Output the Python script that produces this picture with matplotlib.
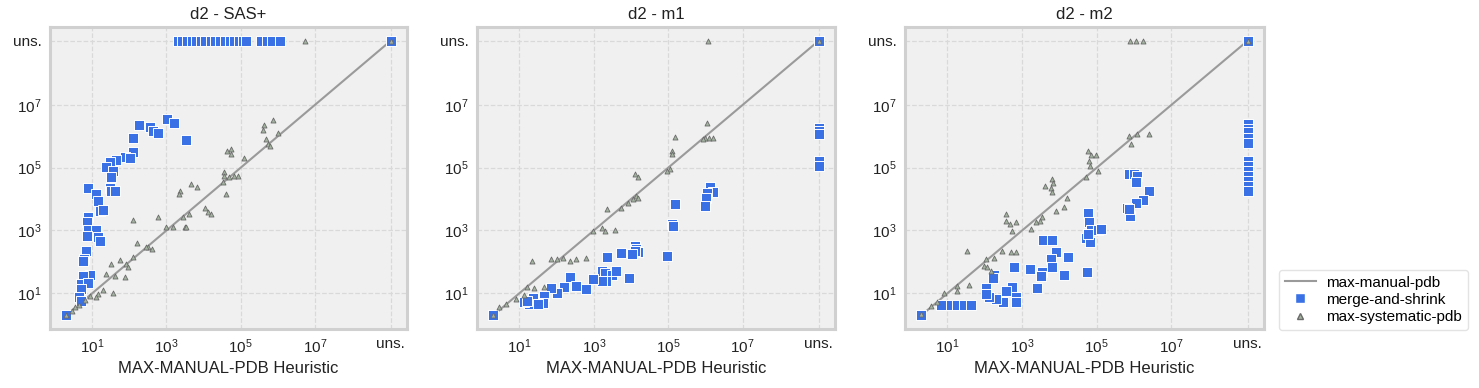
import matplotlib
matplotlib.use('Agg')

import numpy as np
import matplotlib.pyplot as plt
from matplotlib.lines import Line2D

# expansions, given as log10 of the value; 'u' = unsolved
UNS = 1.1e9

titles = ['d2 - SAS+', 'd2 - m1', 'd2 - m2']
series = ['max-manual-pdb', 'merge-and-shrink', 'max-systematic-pdb']
tick_labels = ['$10^1$', '$10^3$', '$10^5$', '$10^7$', 'uns.']

# d2 - SAS+
sas_ms_x = [3.01, 3.21, 2.27, 2.56, 2.63, 2.76, 2.10, 3.54, 2.10, 1.88, 2.01, 1.65, 1.49, 1.36,
            1.56, 1.52, 0.88, 1.47, 1.52, 1.61, 1.11, 1.15, 1.20, 1.29, 0.88, 0.85, 0.88, 1.11,
            1.15, 1.20, 0.85, 0.84, 0.79, 0.74, 0.93, 0.74, 0.70, 0.88, 0.70, 0.65, 0.70, 0.30,
            3.30, 3.42, 3.55, 3.68, 3.80, 3.92, 4.05, 4.20, 4.30, 4.45, 4.58, 4.70, 4.82, 4.95,
            5.05, 5.15, 5.55, 5.70, 5.85, 6.05, 'u']
sas_ms_y = [6.55, 6.41, 6.36, 6.30, 6.17, 6.10, 5.96, 5.89, 5.51, 5.35, 5.31, 5.26, 5.19, 5.01,
            4.88, 4.69, 4.36, 4.36, 4.27, 4.27, 4.16, 3.95, 3.63, 3.65, 3.42, 3.26, 3.00, 3.00,
            2.78, 2.68, 2.83, 2.36, 2.09, 2.04, 1.59, 1.56, 1.30, 1.32, 1.14, 0.87, 0.77, 0.30,
            'u', 'u', 'u', 'u', 'u', 'u', 'u', 'u', 'u', 'u', 'u', 'u', 'u', 'u',
            'u', 'u', 'u', 'u', 'u', 'u', 'u']
sas_sys_x = [5.87, 5.64, 5.60, 5.69, 5.73, 5.80, 6.00, 4.64, 4.73, 5.08, 4.73, 4.54, 4.55, 4.69,
             4.82, 4.92, 4.51, 4.60, 3.67, 3.81, 3.36, 3.33, 4.05, 4.12, 4.19, 2.10, 2.77, 3.45,
             3.60, 3.51, 3.18, 2.99, 3.54, 2.21, 2.51, 2.60, 2.45, 2.10, 1.91, 1.97, 1.74, 1.52,
             1.38, 1.61, 1.88, 1.56, 1.29, 1.15, 1.11, 0.93, 0.80, 0.65, 0.55, 0.45, 0.30, 6.73, 'u']
sas_sys_y = [6.51, 6.36, 6.20, 5.91, 5.75, 5.70, 6.09, 5.54, 5.59, 5.32, 5.45, 4.85, 4.74, 4.69,
             4.72, 4.74, 4.53, 4.16, 4.48, 4.37, 4.27, 4.16, 3.73, 3.58, 3.54, 3.33, 3.44, 3.44,
             3.52, 3.10, 3.12, 3.10, 3.10, 2.59, 2.46, 2.41, 2.48, 2.17, 1.93, 1.83, 2.06, 1.93,
             1.62, 1.56, 1.51, 1.00, 1.09, 0.98, 0.87, 0.93, 0.78, 0.62, 0.55, 0.45, 0.30, 'u', 'u']

# d2 - m1
m1_ms_x = ['u', 'u', 'u', 'u', 'u', 6.12, 6.21, 6.05, 6.01, 5.98, 5.18, 5.11, 5.13, 4.97,
           4.10, 4.13, 4.19, 4.10, 4.04, 3.74, 3.35, 3.95, 3.23, 3.29, 3.50, 3.61, 3.32, 3.23,
           2.98, 2.35, 2.78, 2.51, 2.19, 2.01, 1.84, 1.65, 1.63, 1.40, 1.27, 1.13, 1.36, 1.49,
           1.20, 0.30, 'u']
m1_ms_y = [6.27, 6.18, 6.08, 5.20, 5.06, 4.39, 4.24, 4.18, 4.05, 3.79, 3.84, 3.22, 3.15, 2.20,
           2.51, 2.41, 2.30, 2.36, 2.25, 2.27, 2.17, 1.49, 1.70, 1.64, 1.59, 1.70, 1.40, 1.38,
           1.46, 1.53, 1.14, 1.24, 1.21, 1.00, 1.17, 0.93, 0.68, 0.71, 0.66, 0.71, 0.85, 0.66,
           0.75, 0.30, 'u']
m1_sys_x = [6.08, 6.05, 6.10, 5.99, 5.94, 6.21, 5.18, 5.09, 5.11, 5.04, 4.97, 4.10, 4.19, 4.14,
            4.19, 4.05, 3.92, 3.72, 3.35, 3.56, 3.23, 3.29, 2.98, 2.78, 2.53, 2.35, 2.17, 2.01,
            1.85, 1.33, 1.65, 1.40, 1.20, 1.13, 0.91, 0.64, 0.46, 0.30, 'u']
m1_sys_y = ['u', 6.43, 5.96, 5.94, 5.90, 5.96, 5.98, 5.53, 5.43, 4.95, 4.90, 4.79, 4.69, 4.10,
            4.05, 3.99, 3.89, 3.71, 3.68, 3.03, 3.07, 2.99, 2.99, 2.12, 2.09, 2.02, 2.14, 2.09,
            2.09, 2.04, 1.21, 1.17, 1.19, 0.96, 0.82, 0.66, 0.56, 0.30, 'u']

# d2 - m2
m2_ms_x = ['u', 'u', 'u', 'u', 'u', 'u', 'u', 'u', 'u', 'u', 'u', 'u', 5.87, 5.99, 6.07, 6.04,
           6.40, 6.25, 6.04, 5.82, 5.89, 5.87, 4.77, 4.79, 4.84, 5.02, 5.11, 4.71, 4.82, 4.77,
           3.57, 3.81, 3.90, 3.77, 3.81, 4.23, 4.13, 4.73, 3.21, 3.52, 3.50, 3.41, 2.77, 2.74,
           2.56, 2.83, 2.83, 2.50, 2.29, 2.25, 2.21, 2.03, 2.12, 2.03, 0.91, 1.09, 1.27, 1.45,
           1.63, 0.82, 0.30, 'u']
m2_ms_y = [6.38, 6.22, 6.12, 5.96, 5.80, 5.22, 5.06, 4.90, 4.74, 4.58, 4.42, 4.26, 4.81, 4.79,
           4.74, 4.53, 4.26, 3.97, 3.89, 3.73, 3.47, 3.68, 3.57, 3.26, 3.01, 3.01, 3.04, 2.76,
           2.62, 2.89, 2.69, 2.69, 2.30, 2.09, 1.85, 2.17, 1.59, 1.67, 1.77, 1.67, 1.56, 1.17,
           1.83, 1.19, 1.08, 0.87, 0.71, 0.71, 0.82, 1.59, 1.49, 1.17, 0.87, 0.98, 0.64, 0.64,
           0.64, 0.64, 0.64, 0.62, 0.30, 'u']
m2_sys_x = [5.89, 6.06, 6.24, 5.87, 5.91, 6.07, 6.40, 4.77, 4.84, 4.97, 4.79, 4.82, 5.02, 4.71,
            3.81, 3.84, 3.77, 3.81, 3.61, 4.21, 4.11, 3.90, 3.52, 3.48, 3.37, 3.23, 2.56, 2.56,
            2.68, 2.83, 2.74, 2.47, 2.70, 2.83, 2.25, 2.03, 1.52, 1.98, 2.07, 2.16, 1.27, 1.58,
            1.27, 0.91, 0.73, 0.55, 0.30, 'u']
m2_sys_y = ['u', 'u', 'u', 6.01, 5.75, 6.06, 6.06, 5.53, 5.41, 5.41, 5.22, 5.06, 4.90, 4.69,
            4.63, 4.50, 4.35, 4.21, 4.42, 4.05, 3.75, 3.63, 3.44, 3.31, 3.26, 3.04, 3.52, 3.31,
            3.22, 3.26, 2.99, 2.36, 2.33, 2.33, 2.14, 2.09, 2.36, 1.88, 1.83, 1.72, 1.24, 1.28,
            1.08, 1.00, 0.71, 0.61, 0.34, 'u']

panels = [
    (sas_ms_x, sas_ms_y, sas_sys_x, sas_sys_y),
    (m1_ms_x, m1_ms_y, m1_sys_x, m1_sys_y),
    (m2_ms_x, m2_ms_y, m2_sys_x, m2_sys_y),
]


def to_val(vals):
    return np.array([UNS if v == 'u' else 10 ** v for v in vals])


plt.rcParams['font.family'] = ['Liberation Sans', 'DejaVu Sans']
plt.rcParams['mathtext.fontset'] = 'custom'
plt.rcParams['mathtext.rm'] = 'Liberation Sans'
plt.rcParams['mathtext.it'] = 'Liberation Sans'

blue = '#3a72e6'
tri_face = '#a3b3a0'
tri_edge = '#6a6a6a'
line_col = '#9a9a9a'

fig = plt.figure(figsize=(14.79, 3.88), dpi=100)
lefts = [50, 477, 905]
widths = [357, 358, 359]
ticks = [1e1, 1e3, 1e5, 1e7, UNS]

for i, (msx, msy, sysx, sysy) in enumerate(panels):
    ax = fig.add_axes([lefts[i] / 1479, 59 / 388, widths[i] / 1479, 302 / 388])
    ax.set_facecolor('#f0f0f0')
    ax.set_axisbelow(True)
    ax.grid(True, color='#d9d9d9', linestyle='--', linewidth=0.9)
    for sp in ax.spines.values():
        sp.set_color('#d0d0d0')
        sp.set_linewidth(2.2)

    diag = np.array([2.0, UNS])
    ax.plot(diag, diag, color=line_col, lw=1.5, zorder=2)
    ax.scatter(to_val(msx), to_val(msy), marker='s', s=42, color=blue,
               edgecolors='white', linewidths=0.7, zorder=3)
    ax.scatter(to_val(sysx), to_val(sysy), marker='^', s=13, color=tri_face,
               edgecolors=tri_edge, linewidths=0.6, zorder=4)

    ax.set_xscale('log')
    ax.set_yscale('log')
    lo, hi = np.log10(2.0), np.log10(UNS)
    pad = 0.05 * (hi - lo)
    ax.set_xlim(10 ** (lo - pad), 10 ** (hi + pad))
    ax.set_ylim(10 ** (lo - pad), 10 ** (hi + pad))
    ax.set_xticks(ticks)
    ax.set_xticklabels(tick_labels)
    ax.set_yticks(ticks)
    ax.set_yticklabels(tick_labels)
    ax.minorticks_off()
    ax.tick_params(length=0, labelsize=11, pad=6, colors='#222222')
    ax.set_title(titles[i], fontsize=12, color='#222222')
    ax.set_xlabel('MAX-MANUAL-PDB Heuristic', fontsize=12, color='#222222')

handles = [
    Line2D([0], [0], color=line_col, lw=1.5),
    Line2D([0], [0], marker='s', color='none', markerfacecolor=blue,
           markeredgecolor='white', markersize=7),
    Line2D([0], [0], marker='^', color='none', markerfacecolor=tri_face,
           markeredgecolor=tri_edge, markersize=4),
]
fig.legend(handles, series, loc='lower left', bbox_to_anchor=(1279 / 1479, 58 / 388),
           fontsize=11, frameon=True, fancybox=True, edgecolor='#dddddd',
           handlelength=2.0, handletextpad=0.7, borderpad=0.4, labelspacing=0.2,
           borderaxespad=0.0)

plt.savefig('out.png', dpi=100)
